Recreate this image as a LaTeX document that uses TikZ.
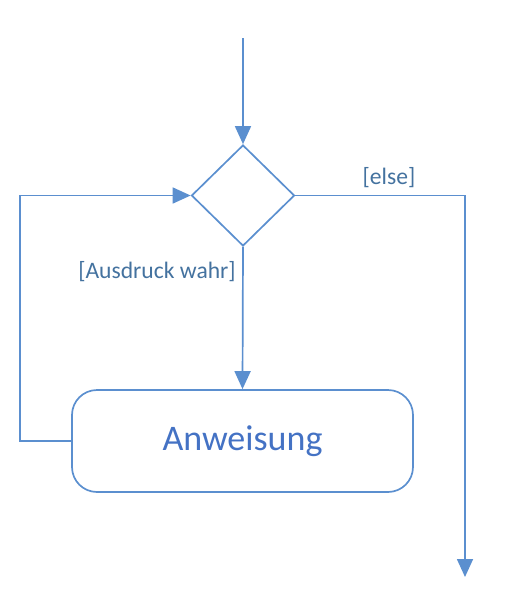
\documentclass[tikz,border=0pt]{standalone}
\usepackage{fontspec}
\setmainfont{Carlito}
\usetikzlibrary{shapes.geometric,arrows.meta}
\definecolor{FlowLine}{HTML}{5B8FCF}
\definecolor{FlowText}{HTML}{4472C4}
\definecolor{FlowLabel}{HTML}{44729F}

\begin{document}
\begin{tikzpicture}[x=1pt, y=-1pt,
  flow/.style={draw=FlowLine, line width=1.7pt},
  arr/.style={flow, -{Triangle[width=16pt,length=18pt]}},
  guard/.style={font=\fontsize{23.6}{27}\selectfont, text=FlowLabel}]
  \useasboundingbox (0,0) rectangle (512,590);
  % nodes
  \coordinate (start) at (243,38);
  \node[flow, diamond, minimum width=103pt, minimum height=101pt, inner sep=0pt] (dec) at (243,195.5) {};
  \node[flow, rounded corners=25pt, minimum width=341pt, minimum height=102pt, inner sep=0pt,
        font=\fontsize{36}{40}\selectfont, text=FlowText] (stmt) at (242.5,441) {Anweisung};
  \coordinate (stop) at (465,577);
  \node[guard] (lelse) at (389,178) {[else]};
  \node[guard] (ltrue) at (157,272) {[Ausdruck wahr]};
  % connectors
  \draw[arr] (start) -- (dec.north);
  \draw[arr] (dec.south) -- (stmt.north);
  \draw[arr] (stmt.west) -- (20,441) -- (20,195.5) -- (dec.west);
  \draw[arr] (dec.east) -| (stop);
\end{tikzpicture}
\end{document}
